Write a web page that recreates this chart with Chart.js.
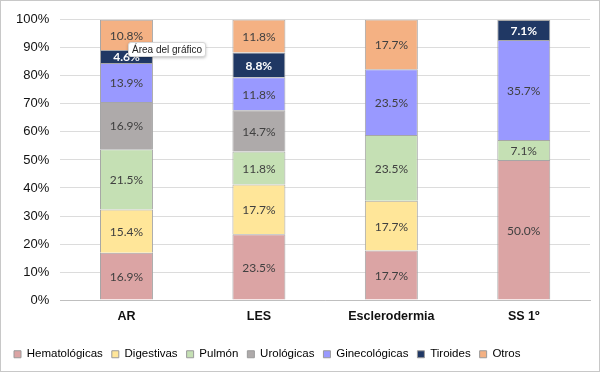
<!DOCTYPE html>
<html>
<head>
<meta charset="utf-8">
<script src="https://cdn.jsdelivr.net/npm/chart.js@4"></script>
<style>
  html, body { margin: 0; padding: 0; background: #fff; }
  #wrap { position: relative; width: 600px; height: 372px; box-sizing: border-box; border: 1px solid #c8c8c8; }
  #chart { display: block; }
  .tip {
    position: absolute; left: 127px; top: 41px;
    padding: 1px 3px; background: #fff; border: 1px solid #d6d6d6;
    border-radius: 3px; box-shadow: 0 1px 3px rgba(0,0,0,0.25);
    font: 10px "Liberation Sans", Arial, sans-serif; color: #222; white-space: nowrap;
  }
</style>
</head>
<body>
<div id="wrap">
  <canvas id="chart" width="598" height="370"></canvas>
  <div class="tip">Área del gráfico</div>
</div>
<script>
// ── Data ──────────────────────────────────────────────────────────────
const categories     = ['AR', 'LES', 'Esclerodermia', 'SS 1º'];
const hematologicas  = [16.9, 23.5, 17.7, 50.0];
const digestivas     = [15.4, 17.7, 17.7, null];
const pulmon         = [21.5, 11.8, 23.5, 7.1];
const urologicas     = [16.9, 14.7, null, null];
const ginecologicas  = [13.9, 11.8, 23.5, 35.7];
const tiroides       = [4.6, 8.8, null, 7.1];
const otros          = [10.8, 11.8, 17.7, null];
const yTicks         = [0, 10, 20, 30, 40, 50, 60, 70, 80, 90, 100];

const series = [
  { label: 'Hematológicas', data: hematologicas, color: '#dba4a4' },
  { label: 'Digestivas',    data: digestivas,    color: '#ffe699' },
  { label: 'Pulmón',        data: pulmon,        color: '#c5e0b4' },
  { label: 'Urológicas',    data: urologicas,    color: '#aeaaaa' },
  { label: 'Ginecológicas', data: ginecologicas, color: '#9999ff' },
  { label: 'Tiroides',      data: tiroides,      color: '#203864', light: true },
  { label: 'Otros',         data: otros,         color: '#f4b183' },
];

const SANS = '"Liberation Sans", Arial, sans-serif';

// ── Segment labels (no datalabels plugin available) ──────────────────
const segmentLabels = {
  id: 'segmentLabels',
  afterDatasetsDraw(chart) {
    const ctx = chart.ctx;
    ctx.save();
    ctx.textAlign = 'center';
    ctx.textBaseline = 'middle';
    chart.data.datasets.forEach((ds, i) => {
      const meta = chart.getDatasetMeta(i);
      meta.data.forEach((bar, j) => {
        const v = ds.data[j];
        if (v == null) return;
        const y = (bar.y + bar.base) / 2;
        ctx.font = ds.light ? 'bold 12px Lato, "Open Sans", sans-serif' : '12px Lato, "Open Sans", sans-serif';
        ctx.fillStyle = ds.light ? '#ffffff' : '#404040';
        ctx.fillText(v.toFixed(1) + '%', bar.x, y + 1);
      });
    });
    ctx.restore();
  },
};

new Chart(document.getElementById('chart'), {
  type: 'bar',
  data: {
    labels: categories,
    datasets: series.map(s => ({
      label: s.label,
      data: s.data,
      light: !!s.light,
      backgroundColor: s.color,
      borderColor: '#a6a6a6',
      borderWidth: 1,
      categoryPercentage: 1,
      barPercentage: 0.4,
    })),
  },
  options: {
    responsive: false,
    animation: false,
    layout: { padding: { top: 12, right: 9, left: 4, bottom: 1 } },
    plugins: {
      tooltip: { enabled: false },
      legend: {
        position: 'bottom',
        align: 'start',
        labels: {
          boxWidth: 7,
          boxHeight: 7,
          padding: 9,
          color: '#222',
          font: { family: SANS, size: 11.5 },
          generateLabels(chart) {
            return chart.data.datasets.map((ds, i) => ({
              text: ds.label,
              fillStyle: ds.backgroundColor,
              strokeStyle: '#9a9a9a',
              lineWidth: 1,
              hidden: false,
              datasetIndex: i,
            }));
          },
        },
      },
    },
    scales: {
      x: {
        stacked: true,
        grid: { display: false },
        border: { color: '#bfbfbf' },
        // blank title only reserves space under the category labels
        title: { display: true, text: ' ', padding: 0, font: { size: 12 } },
        ticks: {
          color: '#111',
          padding: 1,
          font: { family: SANS, size: 12.5, weight: 'bold' },
        },
      },
      y: {
        stacked: true,
        min: 0,
        max: 100,
        afterBuildTicks(axis) { axis.ticks = yTicks.map(v => ({ value: v })); },
        grid: { color: '#dcdcdc', drawTicks: false },
        border: { display: false },
        ticks: {
          color: '#111',
          padding: 11,
          font: { family: SANS, size: 13 },
          callback: v => v + '%',
        },
      },
    },
  },
  plugins: [segmentLabels],
});
</script>
</body>
</html>
